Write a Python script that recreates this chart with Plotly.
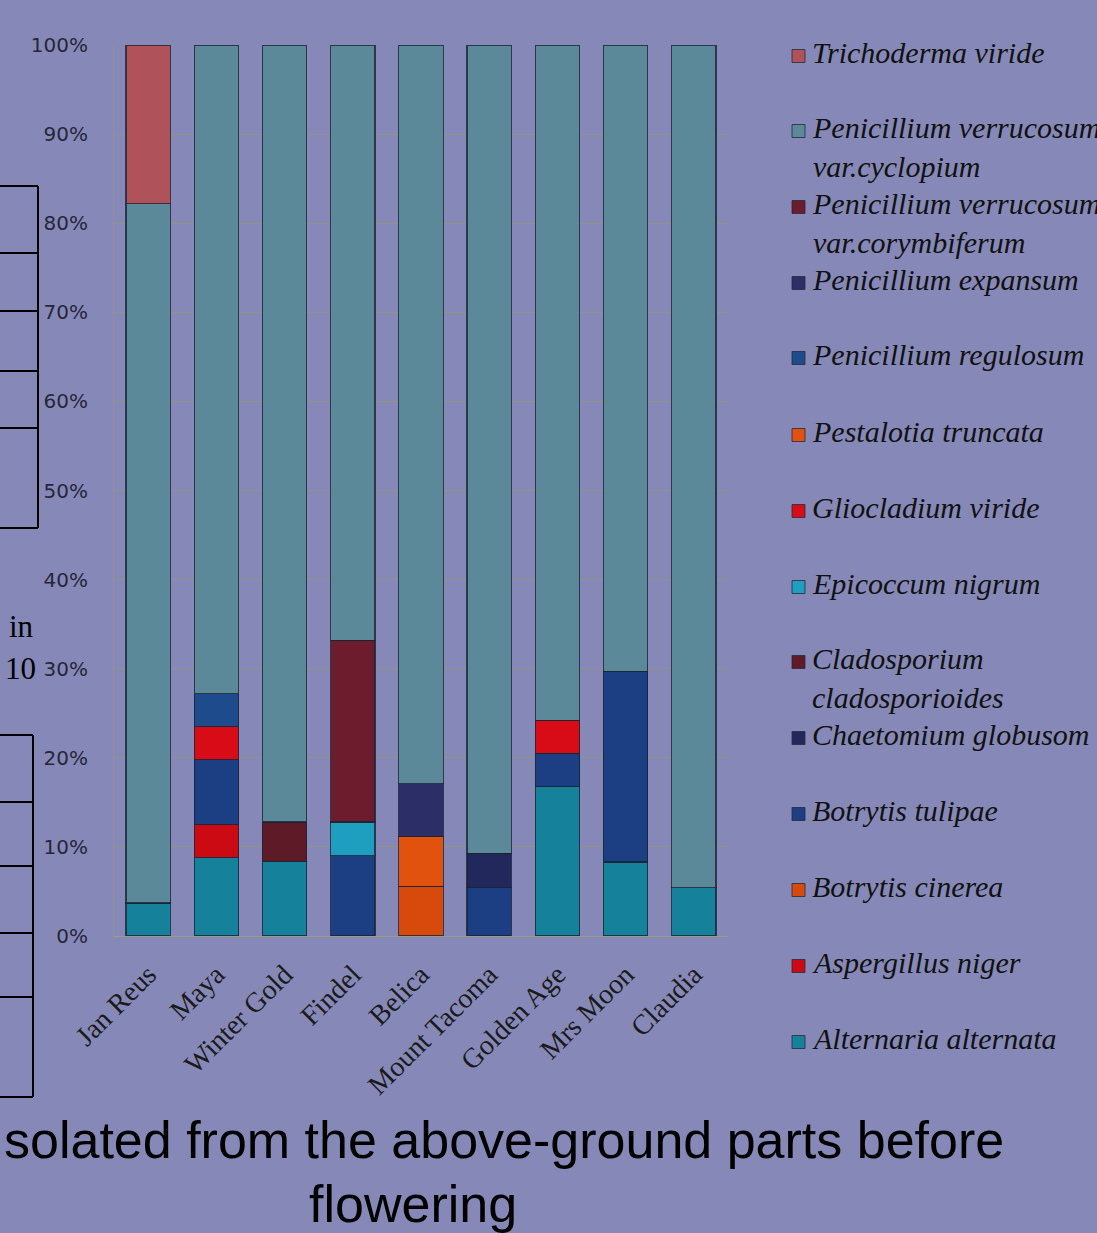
import plotly.graph_objects as go

# Rose varieties on the category axis
varieties = ["Jan Reus", "Maya", "Winter Gold", "Findel", "Belica",
             "Mount Tacoma", "Golden Age", "Mrs Moon", "Claudia"]

# Share of isolates (%) per fungal species, listed in stacking order (bottom -> top)
alternaria_alternata = [3.7, 8.8, 8.4, None, None, None, 16.8, 8.3, 5.4]
aspergillus_niger = [None, 3.7, None, None, None, None, None, None, None]
botrytis_cinerea = [None, None, None, None, 5.6, None, None, None, None]
botrytis_tulipae = [None, 7.3, None, 9.0, None, 5.4, 3.7, 21.4, None]
chaetomium_globusom = [None, None, None, None, None, 3.9, None, None, None]
cladosporium_cladosporioides = [None, None, 4.4, None, None, None, None, None, None]
epicoccum_nigrum = [None, None, None, 3.8, None, None, None, None, None]
gliocladium_viride = [None, 3.7, None, None, None, None, 3.7, None, None]
pestalotia_truncata = [None, None, None, None, 5.6, None, None, None, None]
penicillium_regulosum = [None, 3.7, None, None, None, None, None, None, None]
penicillium_expansum = [None, None, None, None, 5.9, None, None, None, None]
p_verrucosum_corymbiferum = [None, None, None, 20.4, None, None, None, None, None]
p_verrucosum_cyclopium = [78.5, 72.8, 87.2, 66.8, 82.9, 90.7, 75.8, 70.3, 94.6]
trichoderma_viride = [17.8, None, None, None, None, None, None, None, None]

# Legend labels (italic species names) in stacking order
species_labels = [
    "Alternaria alternata", "Aspergillus niger", "Botrytis cinerea",
    "Botrytis tulipae", "Chaetomium globusom", "Cladosporium<br>cladosporioides",
    "Epicoccum nigrum", "Gliocladium viride", "Pestalotia truncata",
    "Penicillium regulosum", "Penicillium expansum",
    "Penicillium verrucosum<br>var.corymbiferum",
    "Penicillium verrucosum<br>var.cyclopium", "Trichoderma viride",
]
series_values = [
    alternaria_alternata, aspergillus_niger, botrytis_cinerea, botrytis_tulipae,
    chaetomium_globusom, cladosporium_cladosporioides, epicoccum_nigrum,
    gliocladium_viride, pestalotia_truncata, penicillium_regulosum,
    penicillium_expansum, p_verrucosum_corymbiferum, p_verrucosum_cyclopium,
    trichoderma_viride,
]
series_colors = [
    "#15819b", "#cc0a14", "#d84a0c", "#1b3f82", "#23285c", "#5e1a26",
    "#1f9fbf", "#d80c16", "#e0520e", "#1d4b8c", "#2c2e68", "#6c1c2c",
    "#5b8999", "#b0525a",
]

BG = "#8689b7"
W, H = 1097, 1233
L, R, T, B = 114, 369, 45, 297
PW, PH = W - L - R, H - T - B


def xp(px):
    return (px - L) / PW


def yp(py):
    return (H - B - py) / PH


fig = go.Figure()
for name, vals, col in zip(species_labels, series_values, series_colors):
    fig.add_trace(go.Bar(
        x=varieties, y=vals, name=name.replace("<br>", " "),
        marker=dict(color=col, line=dict(color="rgba(25,35,50,0.8)", width=1.2)),
        showlegend=False,
    ))

annotations = []
shapes = []

# Hand-placed legend on the right, top entry first
legend_y = [54, 129, 205, 281, 356, 433, 509, 585, 660, 736, 812, 888, 964, 1040]
order = list(range(len(species_labels)))[::-1]
for yc, idx in zip(legend_y, order):
    annotations.append(dict(
        x=xp(810), y=yp(yc - 20), xref="paper", yref="paper",
        xanchor="left", yanchor="top", showarrow=False, align="left",
        text="<i>" + species_labels[idx] + "</i>",
        font=dict(family="Liberation Serif", size=30, color="#111111"),
    ))
    shapes.append(dict(
        type="rect", xref="paper", yref="paper",
        x0=xp(792), x1=xp(805), y0=yp(yc + 8.5), y1=yp(yc - 4.5),
        fillcolor=series_colors[idx], line=dict(color="rgba(40,40,60,0.8)", width=1),
    ))

# Caption beneath the chart
annotations.append(dict(
    x=xp(1006), y=yp(1140), xref="paper", yref="paper", xanchor="right",
    yanchor="middle", showarrow=False,
    text="solated from the above-ground parts before",
    font=dict(family="Liberation Sans", size=52, color="#000000"),
))
annotations.append(dict(
    x=xp(413), y=yp(1204), xref="paper", yref="paper", xanchor="center",
    yanchor="middle", showarrow=False, text="flowering",
    font=dict(family="Liberation Sans", size=52, color="#000000"),
))

# Fragments of the neighbouring table on the left edge
for txt, xr, yc in [("in", 36, 626), ("10", 38, 668)]:
    annotations.append(dict(
        x=xp(xr), y=yp(yc), xref="paper", yref="paper", xanchor="right",
        yanchor="middle", showarrow=False, text=txt,
        font=dict(family="Liberation Serif", size=31, color="#000000"),
    ))

line_style = dict(color="#000000", width=2)
for yy in [186, 253, 311, 371, 428, 528]:
    shapes.append(dict(type="line", xref="paper", yref="paper",
                       x0=xp(-5), x1=xp(38), y0=yp(yy), y1=yp(yy), line=line_style))
shapes.append(dict(type="line", xref="paper", yref="paper",
                   x0=xp(38), x1=xp(38), y0=yp(186), y1=yp(528), line=line_style))
for yy in [735, 802, 866, 933, 997, 1097]:
    shapes.append(dict(type="line", xref="paper", yref="paper",
                       x0=xp(-5), x1=xp(33), y0=yp(yy), y1=yp(yy), line=line_style))
shapes.append(dict(type="line", xref="paper", yref="paper",
                   x0=xp(33), x1=xp(33), y0=yp(735), y1=yp(1097), line=line_style))

fig.update_layout(
    barmode="stack",
    bargap=0.35,
    width=W, height=H,
    margin=dict(l=L, r=R, t=T, b=B, pad=0),
    paper_bgcolor=BG, plot_bgcolor=BG,
    showlegend=False,
    annotations=annotations,
    shapes=shapes,
    xaxis=dict(
        tickangle=-45,
        tickfont=dict(family="Liberation Serif", size=28, color="#1a1a1a"),
        showline=True, linecolor="#9c9a88", linewidth=1,
        showgrid=False, ticks="", ticklabelstandoff=10,
    ),
    yaxis=dict(
        range=[0, 100], dtick=10, ticksuffix="%",
        tickfont=dict(family="DejaVu Sans", size=20, color="#26263a"),
        showgrid=True, gridcolor="rgba(150,148,120,0.75)", gridwidth=1,
        zeroline=False, showline=True, linecolor="rgba(150,148,120,0.6)",
        ticks="", ticklabelstandoff=21,
    ),
)

fig.write_html("out.html")
